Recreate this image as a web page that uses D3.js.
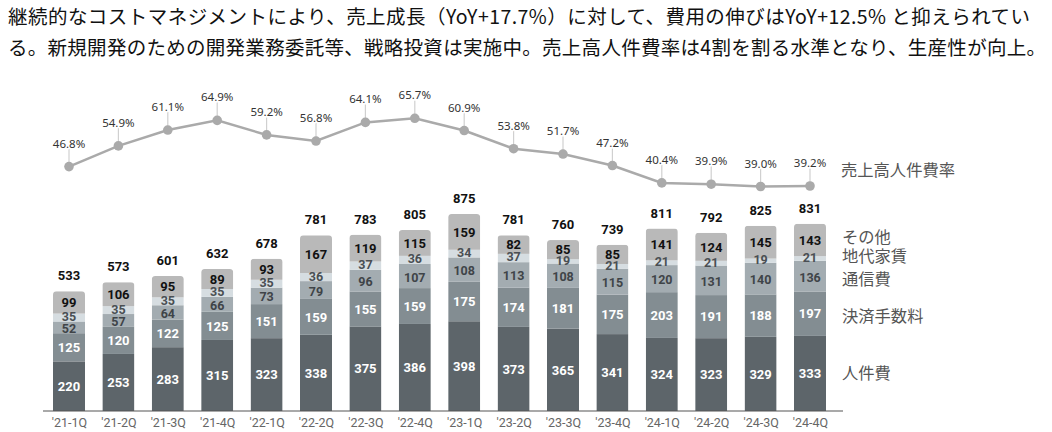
<!DOCTYPE html>
<html><head><meta charset="utf-8">
<script src="https://cdn.jsdelivr.net/npm/d3@7"></script>
<style>
body{margin:0;background:#fff;}
svg{display:block;}
</style></head>
<body>
<svg id="c" width="1052" height="432"></svg>
<script>
const titleLines = [
  "継続的なコストマネジメントにより、売上成長（YoY+17.7%）に対して、費用の伸びはYoY+12.5% と抑えられてい",
  "る。新規開発のための開発業務委託等、戦略投資は実施中。売上高人件費率は4割を割る水準となり、生産性が向上。"
];
const categories = ["'21-1Q","'21-2Q","'21-3Q","'21-4Q","'22-1Q","'22-2Q","'22-3Q","'22-4Q","'23-1Q","'23-2Q","'23-3Q","'23-4Q","'24-1Q","'24-2Q","'24-3Q","'24-4Q"];
const seriesNames = ["人件費","決済手数料","通信費","地代家賃","その他"];
const personnel = [220,253,283,315,323,338,375,386,398,373,365,341,324,323,329,333];
const payment   = [125,120,122,125,151,159,155,159,175,174,181,175,203,191,188,197];
const telecom   = [52,57,64,66,73,79,96,107,108,113,108,115,120,131,140,136];
const rent      = [35,35,35,35,35,36,37,36,34,37,19,21,21,21,19,21];
const other     = [99,106,95,89,93,167,119,115,159,82,85,85,141,124,145,143];
const totals    = [533,573,601,632,678,781,783,805,875,781,760,739,811,792,825,831];
const ratio     = [46.8,54.9,61.1,64.9,59.2,56.8,64.1,65.7,60.9,53.8,51.7,47.2,40.4,39.9,39.0,39.2];
const ratioName = "売上高人件費率";

const seriesValues = [personnel, payment, telecom, rent, other];
const colors = ["#5d656a","#838d92","#a3acb1","#d6dde1","#b9b9b9"];
const labelColors = ["#ffffff","#ffffff","#3f4448","#4a4f53","#111111"];
const labelSizes = [13,13,12.5,12.5,13];
const labelNudge = [0,0,1,-1,0];

const svg = d3.select("#c");
const jp = "'Noto Sans CJK JP','Noto Sans',sans-serif";

// title
svg.selectAll("text.title").data(titleLines).join("text")
  .attr("class","title")
  .attr("x",8).attr("y",(d,i)=>24+i*30.5)
  .attr("font-family",jp).attr("font-size",19.5).attr("fill","#111")
  .attr("textLength",(d,i)=> i===0?1022:1038).attr("lengthAdjust","spacing")
  .text(d=>d);

const x = d3.scalePoint().domain(categories).range([69,810]);
const bw = 32;
const y = d3.scaleLinear().domain([0,900]).range([411,411-900*0.2255]);
const yr = d3.scaleLinear().domain([39,65.7]).range([186.5,118.3]);

// stack
const rows = categories.map((c,i)=>{const o={cat:c}; seriesNames.forEach((s,k)=>o[s]=seriesValues[k][i]); return o;});
const stack = d3.stack().keys(seriesNames)(rows);

const defs = svg.append("defs");
categories.forEach((c,i)=>{
  const top = stack[stack.length-1][i][1];
  defs.append("clipPath").attr("id","clip"+i).append("rect")
    .attr("x",x(c)-bw/2).attr("y",y(top)).attr("width",bw).attr("height",y(0)-y(top)+5)
    .attr("rx",3.5).attr("ry",3.5);
});

const bars = svg.append("g");
stack.forEach((layer,k)=>{
  bars.append("g").selectAll("rect").data(layer).join("rect")
    .attr("clip-path",(d,i)=>`url(#clip${i})`)
    .attr("x",(d,i)=>x(categories[i])-bw/2)
    .attr("y",d=>y(d[1]))
    .attr("width",bw)
    .attr("height",d=>y(d[0])-y(d[1]))
    .attr("fill",colors[k]);
});

// segment labels
stack.forEach((layer,k)=>{
  bars.append("g").selectAll("text").data(layer).join("text")
    .attr("x",(d,i)=>x(categories[i]))
    .attr("y",d=>(y(d[0])+y(d[1]))/2 + labelNudge[k])
    .attr("dy","0.36em")
    .attr("text-anchor","middle")
    .attr("font-family","Roboto, sans-serif").attr("font-weight","bold")
    .attr("font-size",labelSizes[k])
    .attr("fill",labelColors[k])
    .text((d,i)=>seriesValues[k][i]);
});

// totals
bars.append("g").selectAll("text").data(totals).join("text")
  .attr("x",(d,i)=>x(categories[i]))
  .attr("y",(d,i)=>y(stack[4][i][1])-11)
  .attr("text-anchor","middle")
  .attr("font-family","Roboto, sans-serif").attr("font-weight","bold")
  .attr("font-size",13).attr("fill","#111")
  .attr("stroke","#fff").attr("stroke-width",3).attr("paint-order","stroke")
  .text(d=>d);

// axis
const xAxis = d3.axisBottom(x).tickSize(0).tickPadding(7);
const ax = svg.append("g").attr("transform","translate(0,411)").call(xAxis);
ax.select(".domain").remove();
ax.append("line").attr("x1",43).attr("x2",843).attr("y1",0).attr("y2",0).attr("stroke","#555").attr("stroke-width",1.2);
ax.selectAll(".tick text").attr("font-family","Roboto, sans-serif").attr("font-size",12.5).attr("fill","#666");

// ratio line
const lg = svg.append("g");
lg.selectAll("line.lead").data(ratio).join("line")
  .attr("x1",(d,i)=>x(categories[i])).attr("x2",(d,i)=>x(categories[i]))
  .attr("y1",d=>yr(d)-4).attr("y2",d=>yr(d)-18)
  .attr("stroke","#d0d0d0").attr("stroke-width",1.2);
lg.append("path").datum(ratio)
  .attr("d",d3.line().x((d,i)=>x(categories[i])).y(d=>yr(d)))
  .attr("fill","none").attr("stroke","#aaaaaa").attr("stroke-width",2.5);
lg.selectAll("circle").data(ratio).join("circle")
  .attr("cx",(d,i)=>x(categories[i])).attr("cy",d=>yr(d)).attr("r",4.8).attr("fill","#aaaaaa");
lg.selectAll("text").data(ratio).join("text")
  .attr("x",(d,i)=>x(categories[i])).attr("y",d=>yr(d)-19)
  .attr("text-anchor","middle")
  .attr("font-family","'Noto Sans','Open Sans',sans-serif").attr("font-size",11.5).attr("fill","#333")
  .attr("stroke","#fff").attr("stroke-width",3).attr("paint-order","stroke")
  .text(d=>d.toFixed(1)+"%");

// legend
const legendY = [373,316,279,256,237];
const leg = svg.append("g");
leg.selectAll("text").data(seriesNames).join("text")
  .attr("x",842).attr("y",(d,i)=>legendY[i]).attr("dy","0.36em")
  .attr("font-family",jp).attr("font-size",16.3).attr("fill","#555")
  .text(d=>d);
leg.append("text").attr("x",841).attr("y",170).attr("dy","0.36em")
  .attr("font-family",jp).attr("font-size",16.3).attr("fill","#555")
  .text(ratioName);
</script>
</body></html>
